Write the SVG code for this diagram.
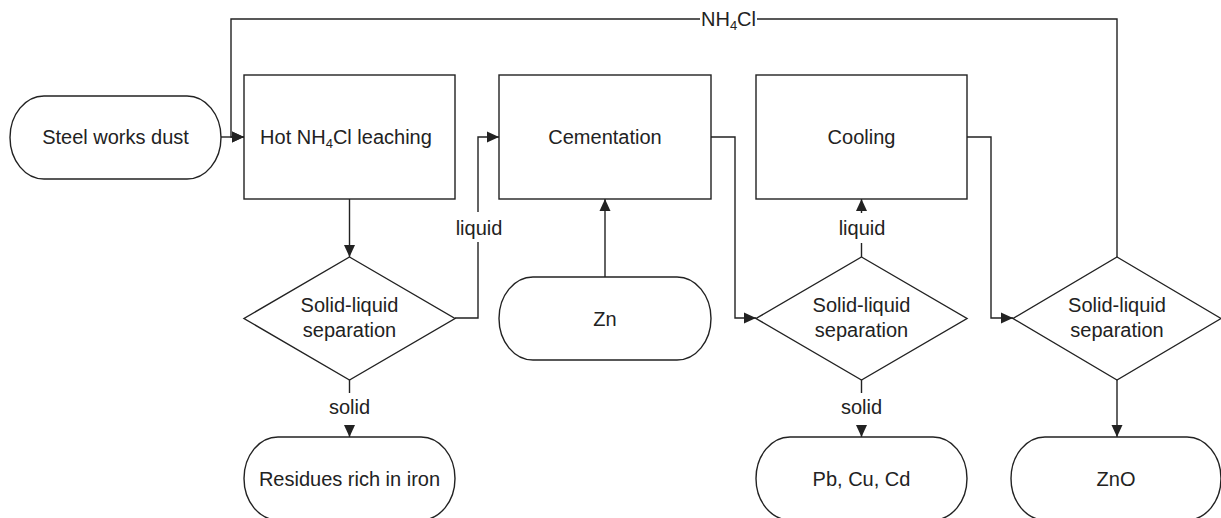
<svg xmlns="http://www.w3.org/2000/svg" width="1221" height="518" viewBox="0 0 1221 518">
<style>
.n{fill:#fff;stroke:#222;stroke-width:1.4}
.c{fill:none;stroke:#222;stroke-width:1.4}
.a{marker-end:url(#ah)}
text{font-family:"Liberation Sans",Arial,sans-serif;font-size:20px;fill:#222;text-anchor:middle}
.s{font-size:13px}
</style>
<defs>
<marker id="ah" markerUnits="userSpaceOnUse" markerWidth="13" markerHeight="12" refX="12" refY="6" orient="auto">
<path d="M0,0.5 L12,6 L0,11.5 z" fill="#222"/>
</marker>
</defs>
<rect width="1221" height="518" fill="#fff"/>
<g id="connectors">
<path class="c a" d="M221,137 H244"/>
<path class="c" d="M1117,257 V19 H757"/>
<path class="c a" d="M700,19 H231 V137 H244"/>
<path class="c a" d="M349.5,199 V257"/>
<path class="c" d="M349.5,380 V393"/>
<path class="c a" d="M349.5,425 V437"/>
<path class="c" d="M455,318 H478 V242"/>
<path class="c a" d="M478,212 V137 H499"/>
<path class="c a" d="M605,277 V199"/>
<path class="c a" d="M711,137 H735 V318 H756"/>
<path class="c" d="M861.5,257 V243"/>
<path class="c a" d="M861.5,213 V199"/>
<path class="c" d="M861.5,380 V393"/>
<path class="c a" d="M861.5,425 V437"/>
<path class="c a" d="M967,137 H991 V318 H1013"/>
<path class="c a" d="M1117,380 V437"/>
<text x="728.5" y="26">NH<tspan class="s" dy="4">4</tspan><tspan dy="-4">Cl</tspan></text>
<text x="479" y="235">liquid</text>
<text x="862" y="235">liquid</text>
<text x="349.5" y="414">solid</text>
<text x="861.5" y="414">solid</text>
</g>
<g id="steel-dust"><rect class="n" x="10" y="96" width="211" height="83" rx="34" ry="41.5"/><text x="115.5" y="144">Steel works dust</text></g>
<g id="leaching"><rect class="n" x="244" y="75" width="211" height="124"/><text x="346" y="144">Hot NH<tspan class="s" dy="4">4</tspan><tspan dy="-4">Cl leaching</tspan></text></g>
<g id="cementation"><rect class="n" x="499" y="75" width="212" height="124"/><text x="605" y="144">Cementation</text></g>
<g id="cooling"><rect class="n" x="756" y="75" width="211" height="124"/><text x="861.5" y="144">Cooling</text></g>
<g id="sep1"><path class="n" d="M349.5,257 L455,318.5 L349.5,380 L244,318.5 z"/><text x="349.5" y="312">Solid-liquid</text><text x="349.5" y="337">separation</text></g>
<g id="zn"><rect class="n" x="499" y="277" width="212" height="83" rx="34" ry="41.5"/><text x="605" y="326">Zn</text></g>
<g id="sep2"><path class="n" d="M861.5,257 L967,318.5 L861.5,380 L756,318.5 z"/><text x="861.5" y="312">Solid-liquid</text><text x="861.5" y="337">separation</text></g>
<g id="sep3"><path class="n" d="M1117,257 L1221,318.5 L1117,380 L1013,318.5 z"/><text x="1117" y="312">Solid-liquid</text><text x="1117" y="337">separation</text></g>
<g id="residues"><rect class="n" x="244" y="437" width="211" height="83" rx="34" ry="41.5"/><text x="349.5" y="486">Residues rich in iron</text></g>
<g id="pbcucd"><rect class="n" x="756" y="437" width="211" height="83" rx="34" ry="41.5"/><text x="861.5" y="486">Pb, Cu, Cd</text></g>
<g id="zno"><rect class="n" x="1011" y="437" width="210" height="83" rx="34" ry="41.5"/><text x="1116" y="486">ZnO</text></g>
</svg>
